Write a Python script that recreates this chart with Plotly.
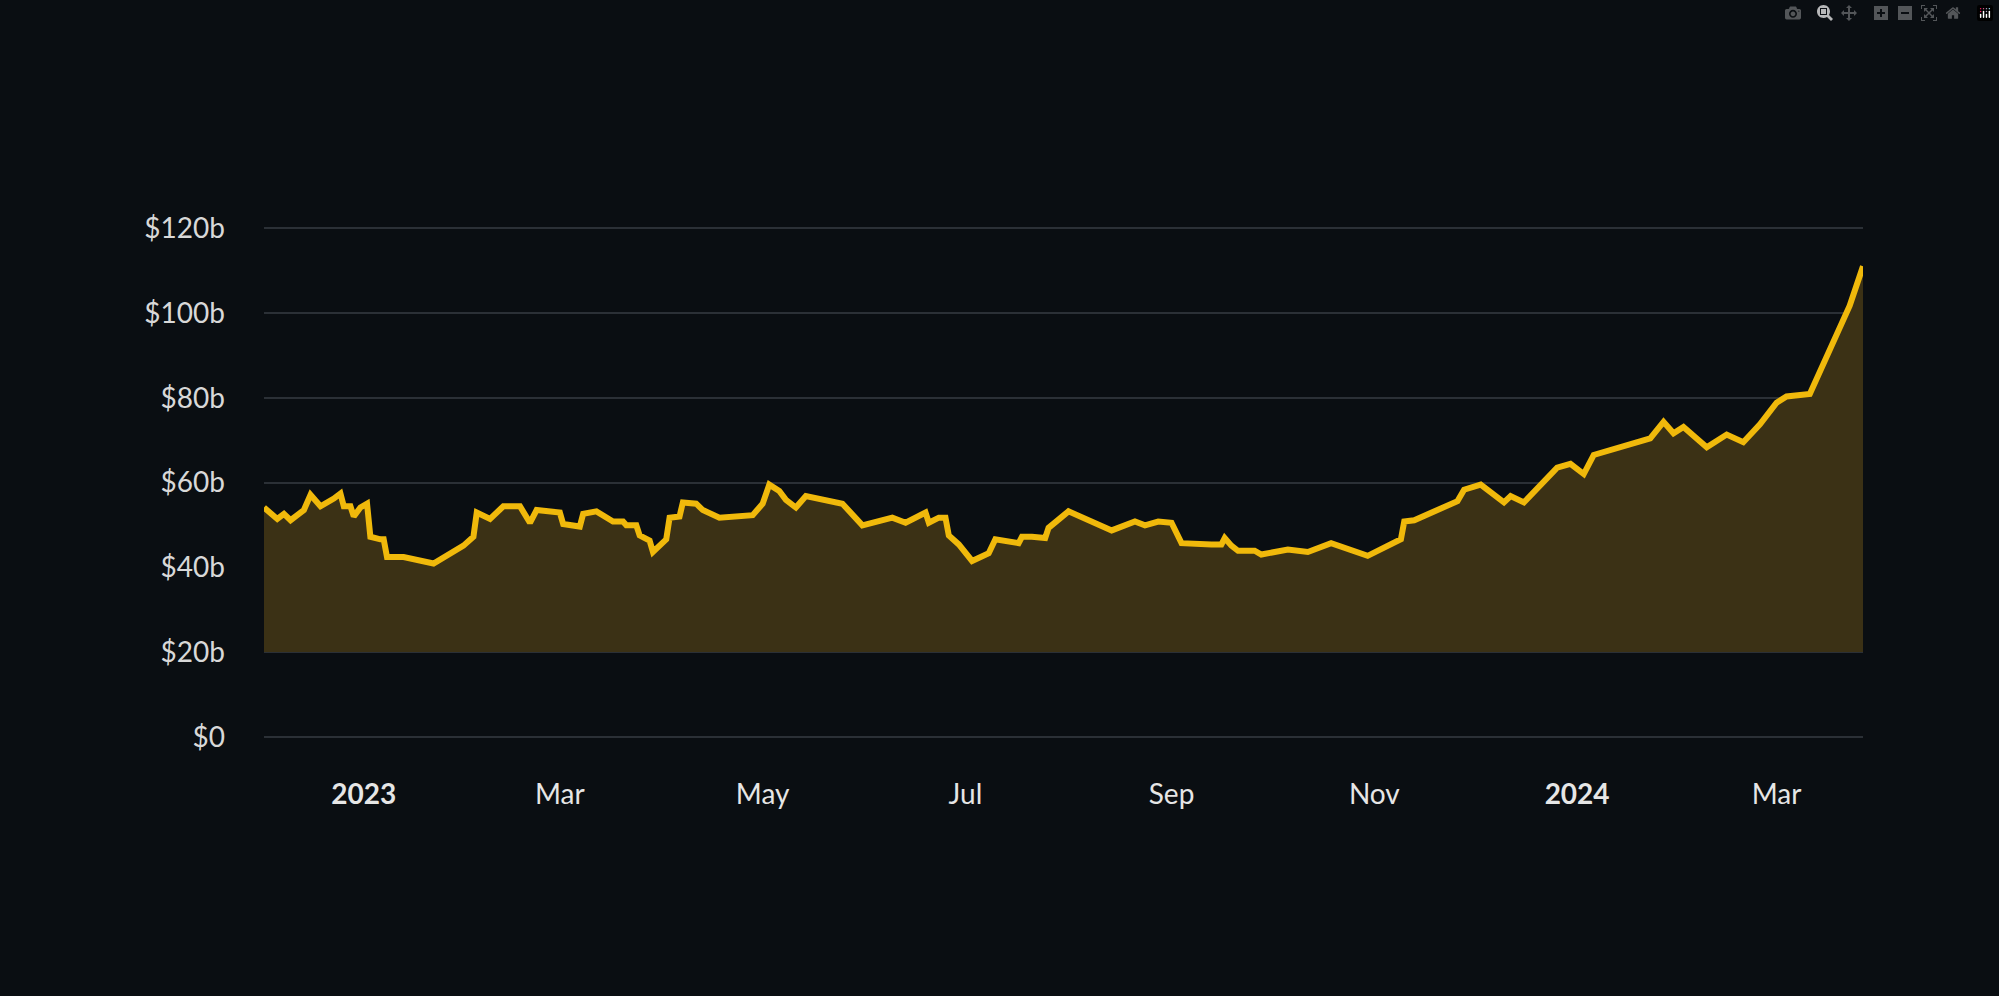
import plotly.graph_objects as go

dates = ["2022-12-02","2022-12-06","2022-12-08","2022-12-10","2022-12-12","2022-12-14","2022-12-16","2022-12-19",
"2022-12-23","2022-12-25","2022-12-26","2022-12-28","2022-12-29","2022-12-31","2023-01-02","2023-01-03",
"2023-01-06","2023-01-07","2023-01-08","2023-01-13","2023-01-22","2023-01-29","2023-01-31","2023-02-03",
"2023-02-04","2023-02-08","2023-02-12","2023-02-17","2023-02-20","2023-02-22","2023-03-01","2023-03-02",
"2023-03-07","2023-03-08","2023-03-12","2023-03-17","2023-03-20","2023-03-21","2023-03-24","2023-03-25",
"2023-03-28","2023-03-29","2023-03-31","2023-04-02","2023-04-03","2023-04-06","2023-04-07","2023-04-11",
"2023-04-13","2023-04-18","2023-04-28","2023-05-01","2023-05-03","2023-05-06","2023-05-08","2023-05-11",
"2023-05-14","2023-05-25","2023-05-31","2023-06-09","2023-06-13","2023-06-19","2023-06-20","2023-06-23",
"2023-06-25","2023-06-26","2023-06-29","2023-07-03","2023-07-08","2023-07-10","2023-07-17","2023-07-18",
"2023-07-21","2023-07-25","2023-07-26","2023-08-01","2023-08-14","2023-08-21","2023-08-24","2023-08-28",
"2023-09-01","2023-09-04","2023-09-13","2023-09-16","2023-09-17","2023-09-19","2023-09-21","2023-09-26",
"2023-09-28","2023-10-06","2023-10-12","2023-10-19","2023-10-30","2023-11-09","2023-11-10","2023-11-13",
"2023-11-26","2023-11-28","2023-12-03","2023-12-10","2023-12-12","2023-12-16","2023-12-26","2023-12-30",
"2024-01-03","2024-01-06","2024-01-23","2024-01-27","2024-01-30","2024-02-02","2024-02-09","2024-02-15",
"2024-02-20","2024-02-25","2024-03-01","2024-03-04","2024-03-11","2024-03-23","2024-03-27"]

values = [54.1,51.4,52.6,51.1,52.3,53.5,57.1,54.4,
56.2,57.4,54.4,54.4,52.0,54.1,55.0,47.2,
46.6,46.6,42.4,42.4,40.9,43.9,45.1,47.2,
52.9,51.4,54.4,54.4,50.5,53.5,52.9,50.2,
49.6,52.6,53.2,50.8,50.8,49.9,49.9,47.5,
46.3,43.6,45.1,46.6,51.7,52.0,55.3,55.0,
53.5,51.7,52.3,55.0,59.5,58.0,55.9,54.1,
56.8,55.0,49.9,51.7,50.5,52.9,50.5,51.7,
51.7,47.5,45.4,41.5,43.3,46.6,45.7,47.2,
47.2,46.9,49.3,53.2,48.7,50.8,49.9,50.8,
50.5,45.7,45.4,45.4,46.9,45.1,43.9,43.9,
43.0,44.2,43.6,45.7,42.7,46.6,50.8,51.1,
55.6,58.3,59.5,55.3,56.8,55.3,63.5,64.4,
62.0,66.5,70.4,74.3,71.6,73.1,68.3,71.3,
69.5,73.7,78.8,80.3,80.9,101.7,111.0]

fill_base = 20
x_tickvals = ["2023-01-01","2023-03-01","2023-05-01","2023-07-01","2023-09-01","2023-11-01","2024-01-01","2024-03-01"]
x_ticktext = ["<b>2023</b>","Mar","May","Jul","Sep","Nov","<b>2024</b>","Mar"]
y_tickvals = [0,20,40,60,80,100,120]
y_ticktext = ["$0","$20b","$40b","$60b","$80b","$100b","$120b"]

bg = "#0a0e12"
fig = go.Figure()
fig.add_trace(go.Scatter(x=dates, y=[fill_base]*len(dates), mode="lines",
                         line=dict(width=0, color="rgba(0,0,0,0)"), hoverinfo="skip", showlegend=False))
fig.add_trace(go.Scatter(x=dates, y=values, mode="lines", fill="tonexty",
                         fillcolor="#3b3115", line=dict(color="#f0b90b", width=6), showlegend=False))
fig.update_layout(
    width=1999, height=996, paper_bgcolor=bg, plot_bgcolor=bg,
    margin=dict(l=264, r=136, t=226, b=257),
    font=dict(family="Lato", color="#d8d8d8", size=27),
    xaxis=dict(range=["2022-12-02","2024-03-27"], tickvals=x_tickvals, ticktext=x_ticktext,
               showgrid=False, zeroline=False, showline=False, ticklabelstandoff=36,
               tickfont=dict(color="#e6e6e6", size=28)),
    yaxis=dict(range=[-0.5,120.5], tickvals=y_tickvals, ticktext=y_ticktext, gridcolor="#2b3036",
               gridwidth=1.5, zeroline=False, showline=False, ticklabelstandoff=38, layer="above traces",
               tickfont=dict(color="#d8d8d8", size=28)),
)
fig.write_html("out.html", post_script="document.body.style.margin='0';document.body.style.background='#0a0e12';")
